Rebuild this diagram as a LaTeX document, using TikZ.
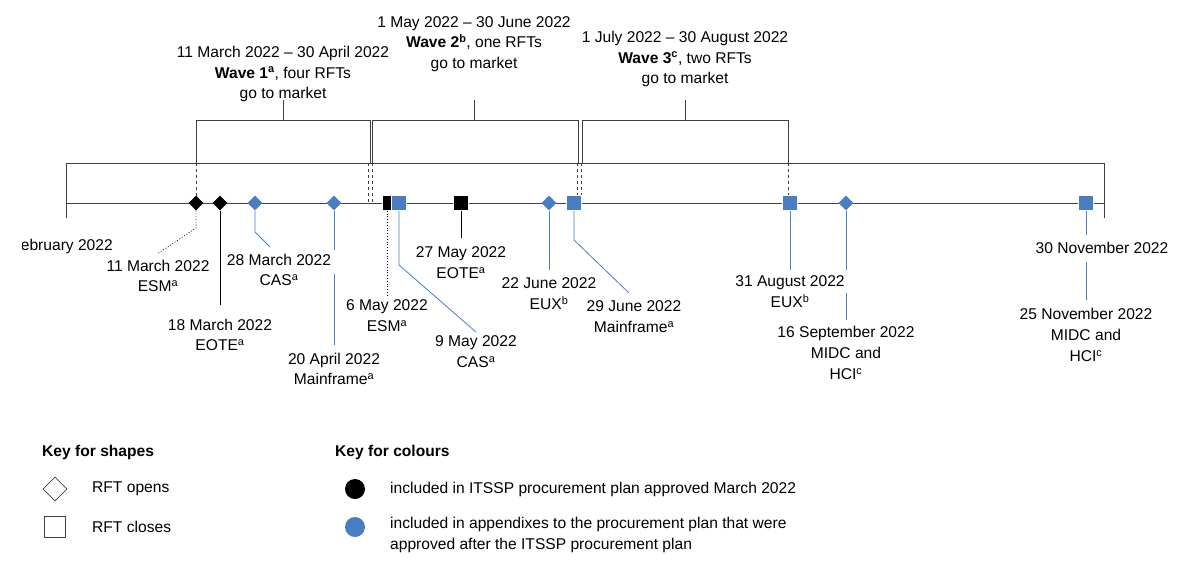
\documentclass[tikz,border=0pt]{standalone}
\usepackage{fontspec}
\setmainfont{Liberation Sans}
\usetikzlibrary{shapes.geometric}
\definecolor{bl}{HTML}{4A7EC2}
\definecolor{ln}{HTML}{404040}
\begin{document}
\begin{tikzpicture}[x=1pt,y=-1pt,
  lab/.style={align=center,font=\fontsize{15.6}{20.8}\selectfont,inner sep=0pt},
  dia/.style={diamond,fill=#1,minimum size=15pt,inner sep=0pt},
  sq/.style={rectangle,fill=#1,draw=white,line width=0.6pt,minimum size=15pt,inner sep=0pt},
  blu/.style={draw=bl,line width=0.8pt},
  blk/.style={draw=black,line width=0.8pt},
  br/.style={draw=ln,line width=1pt}]
\useasboundingbox (0,0) rectangle (1200,574);
% brackets
\draw[br] (66,218) -- (66,163) -- (1104,163) -- (1104,218);
\draw[br] (66,203) -- (1104,203);
\draw[br] (196,163) -- (196,120) -- (370,120) -- (370,163);
\draw[br] (283,120) -- (283,100);
\draw[br] (372,163) -- (372,120) -- (578,120) -- (578,163);
\draw[br] (474,120) -- (474,100);
\draw[br] (582,163) -- (582,120) -- (788,120) -- (788,163);
\draw[br] (685,120) -- (685,100);
\draw[br,dashed] (196,163) -- (196,203);
\draw[br,dashed] (368,163) -- (368,203);
\draw[br,dashed] (372,163) -- (372,203);
\draw[br,dashed] (577,163) -- (577,203);
\draw[br,dashed] (581,163) -- (581,203);
\draw[br,dashed] (788,163) -- (788,203);
\node[lab] (w1) at (283,74) {11 March 2022 -- 30 April 2022\\\textbf{Wave 1\textsuperscript{a}}, four RFTs\\go to market};
\node[lab] (w2) at (474,44) {1 May 2022 -- 30 June 2022\\\textbf{Wave 2\textsuperscript{b}}, one RFTs\\go to market};
\node[lab] (w3) at (685,59) {1 July 2022 -- 30 August 2022\\\textbf{Wave 3\textsuperscript{c}}, two RFTs\\go to market};
% markers
\node[dia=black] (m1) at (196,203) {};
\node[dia=black] (m2) at (220,203) {};
\node[dia=bl] (m3) at (255,203) {};
\node[dia=bl] (m4) at (334,203) {};
\node[sq=black,minimum width=10pt] (m5) at (387,203) {};
\node[sq=bl] (m6) at (399,203) {};
\node[sq=black] (m7) at (461,203) {};
\node[dia=bl] (m8) at (549,203) {};
\node[sq=bl] (m9) at (574,203) {};
\node[sq=bl] (m10) at (790,203) {};
\node[dia=bl] (m11) at (846,203) {};
\node[sq=bl] (m12) at (1086,203) {};
% labels
\begin{scope}\clip (22,230) rectangle (130,262);
\node[lab,anchor=east] (feb) at (113,246) {February 2022};
\end{scope}
\node[lab] (l1) at (158,276) {11 March 2022\\ESM\textsuperscript{a}};
\draw[blk,dotted] (m1) -- (196,228) -- (157,254);
\node[lab] (l2) at (220,335) {18 March 2022\\EOTE\textsuperscript{a}};
\draw[blk] (m2) -- (220,305);
\node[lab] (l3) at (279,270) {28 March 2022\\CAS\textsuperscript{a}};
\draw[blu] (m3) -- (255,232) -- (270,247);
\node[lab] (l4) at (334,369) {20 April 2022\\Mainframe\textsuperscript{a}};
\draw[blu] (m4) -- (334,250);
\draw[blu] (334,274) -- (334,345);
\node[lab] (l5) at (387,316) {6 May 2022\\ESM\textsuperscript{a}};
\draw[blk,dotted] (m5) -- (387,296);
\node[lab] (l6) at (476,352) {9 May 2022\\CAS\textsuperscript{a}};
\draw[blu] (m6) -- (399,265) -- (476,332);
\node[lab] (l7) at (461,263) {27 May 2022\\EOTE\textsuperscript{a}};
\draw[blk] (m7) -- (461,238);
\node[lab] (l8) at (549,294) {22 June 2022\\EUX\textsuperscript{b}};
\draw[blu] (m8) -- (549,270);
\node[lab] (l9) at (634,317) {29 June 2022\\Mainframe\textsuperscript{a}};
\draw[blu] (m9) -- (574,240) -- (629,293);
\node[lab] (l10) at (790,292) {31 August 2022\\EUX\textsuperscript{b}};
\draw[blu] (m10) -- (790,270);
\node[lab] (l11) at (846,353) {16 September 2022\\MIDC and\\HCI\textsuperscript{c}};
\draw[blu] (m11) -- (846,270);
\draw[blu] (846,293) -- (846,320);
\node[lab] (l12) at (1102,248) {30 November 2022};
\node[lab] (l13) at (1086,335) {25 November 2022\\MIDC and\\HCI\textsuperscript{c}};
\draw[blu] (m12) -- (1086,235);
\draw[blu] (1086,262) -- (1086,300);
% keys
\node[lab,anchor=west,font=\fontsize{15.6}{18}\selectfont\bfseries] (ks) at (42,452) {Key for shapes};
\node[diamond,draw=ln,line width=0.6pt,minimum size=24pt,inner sep=0pt] (kd) at (55,489) {};
\node[lab,anchor=west] (kdt) at (92,489) {RFT opens};
\node[rectangle,draw=ln,line width=0.6pt,minimum size=21pt,inner sep=0pt] (kq) at (55,527) {};
\node[lab,anchor=west] (kqt) at (92,527) {RFT closes};
\node[lab,anchor=west,font=\fontsize{15.6}{18}\selectfont\bfseries] (kc) at (335,452) {Key for colours};
\node[circle,fill=black,minimum size=20pt,inner sep=0pt] (kb) at (355,489) {};
\node[lab,anchor=west] (kbt) at (390,489) {included in ITSSP procurement plan approved March 2022};
\node[circle,fill=bl,minimum size=20pt,inner sep=0pt] (kl) at (355,527) {};
\node[lab,anchor=west,align=left] (klt) at (390,535) {included in appendixes to the procurement plan that were\\approved after the ITSSP procurement plan};
\end{tikzpicture}
\end{document}
